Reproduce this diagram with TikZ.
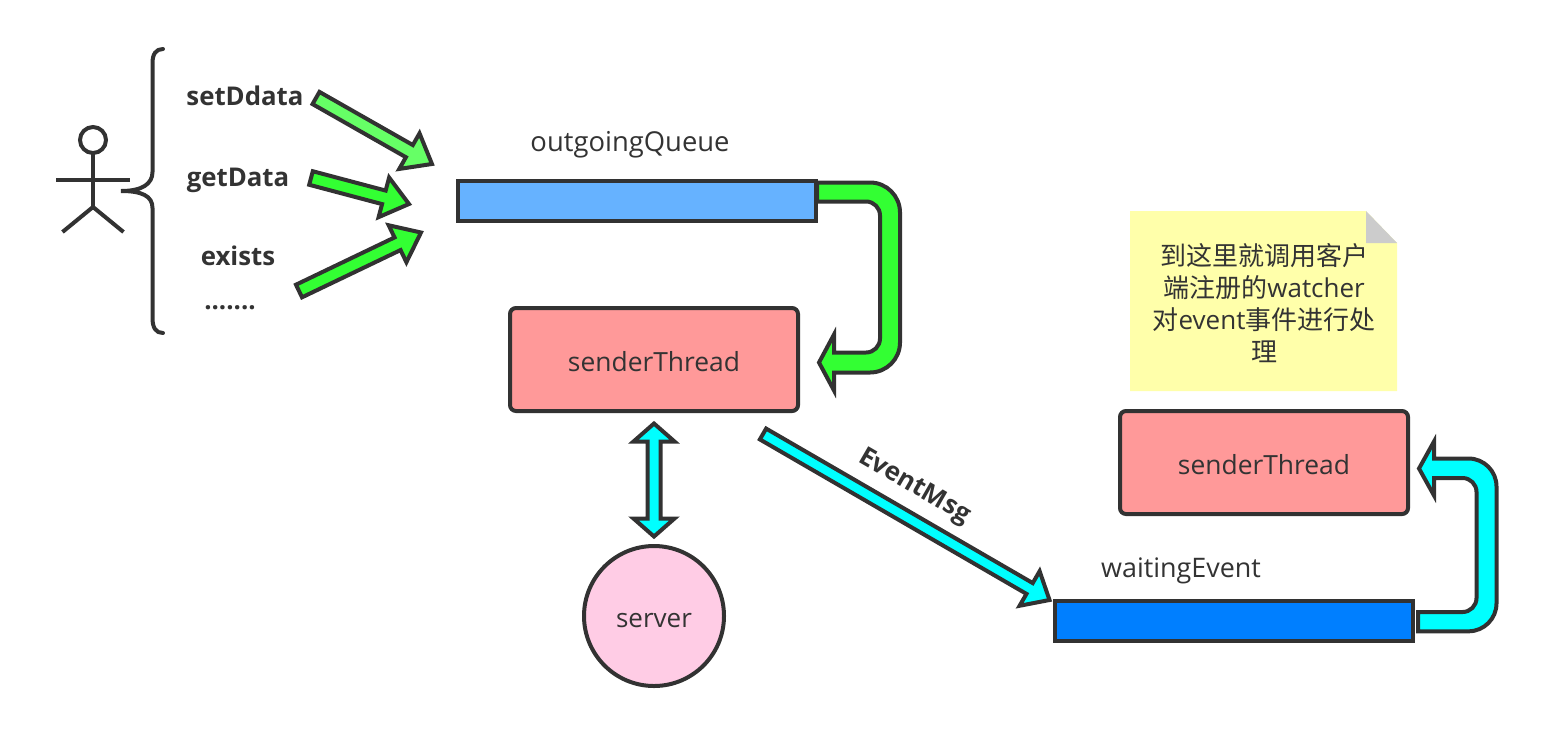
\documentclass[tikz,border=0pt]{standalone}
\usepackage{fontspec}
\setmainfont{Open Sans}
\newfontfamily\cjk{Noto Sans CJK SC}
\usetikzlibrary{calc}
\definecolor{ink}{HTML}{323232}
\definecolor{txt}{HTML}{333333}
\definecolor{lgreen}{HTML}{66FF66}
\definecolor{bgreen}{HTML}{33FF33}
\definecolor{acyan}{HTML}{00FFFF}
\definecolor{qblue}{HTML}{66B2FF}
\definecolor{wblue}{HTML}{007FFF}
\definecolor{rose}{HTML}{FF9999}
\definecolor{pinkc}{HTML}{FFCCE5}
\definecolor{notey}{HTML}{FFFFAA}
\definecolor{foldg}{HTML}{CCCCCC}
\tikzset{
  outl/.style={draw=ink,line width=2pt,line join=miter,miter limit=12},
  barbox/.style={outl,rectangle,inner sep=0pt,outer sep=0pt,minimum width=179pt,minimum height=20pt},
  threadbox/.style={outl,rectangle,rounded corners=3pt,fill=rose,inner sep=0pt,outer sep=0pt,minimum width=144pt,minimum height=51.5pt,text=txt,font=\fontsize{13.2pt}{16pt}\selectfont},
  lab/.style={text=txt,inner sep=0pt,outer sep=0pt,font=\fontsize{13.2pt}{16pt}\selectfont},
  blab/.style={text=txt,inner sep=0pt,outer sep=0pt,font=\bfseries\fontsize{12.9pt}{16pt}\selectfont},
  stick/.style={draw=ink,line width=2pt,line cap=butt},
}
\newcommand{\blockarrow}[6]{%
  \path let \p1=($(#3)-(#2)$),\n1={atan2(\y1,\x1)},\n2={veclen(\x1,\y1)} in
   [draw=ink,line width=2pt,miter limit=12,fill=#1,shift={(#2)},rotate=\n1]
   (0,#4/2) -- ({\n2-#6/2},#4/2) -- ({\n2-#6/2},#5/2) -- ({\n2},0)
   -- ({\n2-#6/2},-#5/2) -- ({\n2-#6/2},-#4/2) -- (0,-#4/2) -- cycle;}
\newcommand{\dblockarrow}[6]{%
  \path let \p1=($(#3)-(#2)$),\n1={atan2(\y1,\x1)},\n2={veclen(\x1,\y1)} in
   [draw=ink,line width=2pt,miter limit=12,fill=#1,shift={(#2)},rotate=\n1]
   (0,0) -- (#6,#5/2) -- (#6,#4/2) -- ({\n2-#6/2},#4/2) -- ({\n2-#6/2},#5/2) -- ({\n2},0)
   -- ({\n2-#6/2},-#5/2) -- ({\n2-#6/2},-#4/2) -- (#6,-#4/2) -- (#6,-#5/2) -- cycle;}
\begin{document}
\begin{tikzpicture}[x=0.5pt,y=-0.5pt]
\useasboundingbox (0,0) rectangle (1546,735);
% bent arrows below the bars
\coordinate (qe) at (817,201);
\coordinate (we) at (1413,621);
\draw[outl,fill=bgreen] (qe) ++(0,-18.5) [rounded corners=15pt] -- ++(83,0) -- ++(0,190) [sharp corners] -- ++(-66,0) -- ++(0,18) -- ++(-15,-28) -- ++(15,-28) -- ++(0,18) [rounded corners=7pt] -- ++(46,0) -- ++(0,-151) [sharp corners] -- ++(-63,0) -- cycle;
\node[barbox,fill=qblue] (queue) at (637,201) {};
\node[lab,font=\fontsize{13.7pt}{16pt}\selectfont] (queuelab) at (630,145) {outgoingQueue};
\node[threadbox] (thread1) at (654,359.5) {\smash{\raisebox{-6pt}{senderThread}}};
\node[threadbox] (thread2) at (1264,462.5) {\smash{\raisebox{-6pt}{senderThread}}};
\node[barbox,fill=wblue] (wait) at (1234,621) {};
\node[lab,font=\fontsize{13.45pt}{16pt}\selectfont] (waitlab) at (1181,571) {waitingEvent};
\draw[outl,fill=pinkc] (654,616) circle [radius=70];
\node[lab] (server) at (654,621) {\fontsize{13pt}{16pt}\selectfont server};
% note
\fill[notey] (1130,211) -- (1366,211) -- (1397,243) -- (1397,391) -- (1130,391) -- cycle;
\fill[foldg] (1366,211) -- (1397,243) -- (1366,243) -- cycle;
\node[lab,align=center,font=\fontsize{13pt}{16pt}\selectfont] (note) at (1264,303)
 {{\cjk 到这里就调用客户}\\{\cjk 端注册的}watcher\\{\cjk 对}event{\cjk 事件进行处}\\{\cjk 理}};
% actor
\draw[stick] (93,140) circle [radius=13];
\draw[stick] (93,153) -- (93,207);
\draw[stick] (56,180) -- (130,180);
\draw[stick] (62.5,232) -- (93,207) -- (123.5,232);
% brace
\draw[stick,line cap=round] (163,49) .. controls (156,49) and (152.5,54) .. (152.5,63) -- (152.5,172)
  .. controls (152.5,184) and (142,191) .. (121,191)
  .. controls (142,191) and (152.5,196) .. (152.5,208) -- (152.5,318)
  .. controls (152.5,328) and (156,333) .. (163,333);
% labels
\node[blab] (l1) at (245,96) {setDdata};
\node[blab] (l2) at (238,180) {getData};
\node[blab] (l3) at (238,256) {exists};
\node[blab] (l4) at (230,308) {.......};
\node[blab,rotate=-30] (l5) at (914,487) {EventMsg};
% straight arrows
\coordinate (a1s) at (316,98);  \coordinate (a1e) at (432,164);
\coordinate (a2s) at (311,178); \coordinate (a2e) at (409,204);
\coordinate (a3s) at (299,291); \coordinate (a3e) at (421,232.5);
\coordinate (a4s) at (763,434); \coordinate (a4e) at (1049.5,600);
\coordinate (a5s) at (654,423.5); \coordinate (a5e) at (654,536.5);
\blockarrow{lgreen}{a1s}{a1e}{14}{41}{26}
\blockarrow{bgreen}{a2s}{a2e}{14}{41}{26}
\blockarrow{bgreen}{a3s}{a3e}{14}{41}{26}
\blockarrow{acyan}{a4s}{a4e}{12.5}{40}{23}
\dblockarrow{acyan}{a5s}{a5e}{13}{41}{18}
\draw[outl,fill=acyan] (we) ++(5,-9) [rounded corners=7pt] -- ++(58.5,0) -- ++(0,-134) [sharp corners] -- ++(-42.5,0) -- ++(0,17.5) -- ++(-15,-27) -- ++(15,-27) -- ++(0,17) [rounded corners=14pt] -- ++(62.5,0) -- ++(0,172.8) [sharp corners] -- ++(-78.5,0) -- cycle;
\end{tikzpicture}
\end{document}
